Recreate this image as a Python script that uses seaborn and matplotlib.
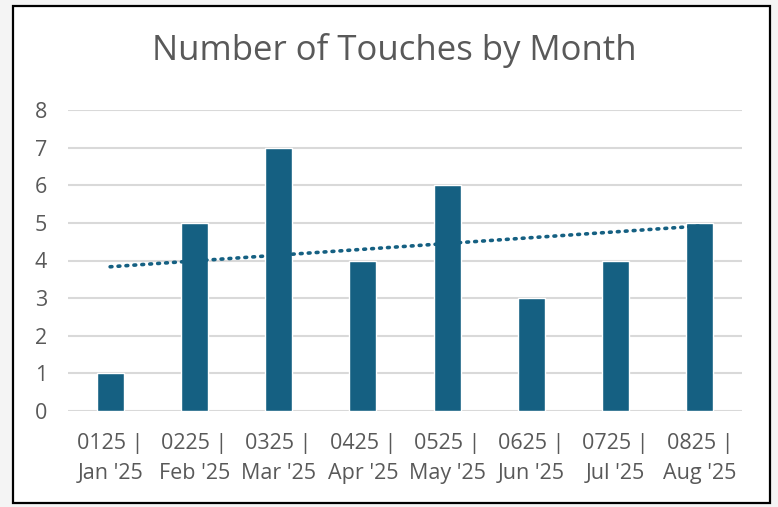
import numpy as np
import pandas as pd
import matplotlib
matplotlib.use('Agg')
import matplotlib.pyplot as plt
import seaborn as sns
from matplotlib.patches import Rectangle

# data
codes = ['0125', '0225', '0325', '0425', '0525', '0625', '0725', '0825']
months = ["Jan '25", "Feb '25", "Mar '25", "Apr '25", "May '25", "Jun '25", "Jul '25", "Aug '25"]
touches = [1, 5, 7, 4, 6, 3, 4, 5]
y_ticks = [0, 1, 2, 3, 4, 5, 6, 7, 8]

labels = [f'{c} |\n{m}' for c, m in zip(codes, months)]
df = pd.DataFrame({'Month': labels, 'Touches': touches})

BLUE = '#156082'
GREY_TXT = '#595959'

sns.set_theme(style='white')
plt.rcParams['font.family'] = ['Open Sans', 'DejaVu Sans']

fig = plt.figure(figsize=(7.78, 5.07), dpi=100, facecolor='#f4f4f4')
# white chart area with thin black border (behind the axes)
fig.patches.append(Rectangle((13/778, 1 - 503/507), 757/778, 497/507,
                             transform=fig.transFigure, facecolor='white',
                             edgecolor='black', linewidth=1.6, zorder=-1))

ax = fig.add_axes([68/778, 1 - 411/507, 674/778, 301/507])
ax.set_facecolor('none')

sns.barplot(data=df, x='Month', y='Touches', color=BLUE, width=0.32,
            saturation=1, ax=ax, zorder=3)

# linear trendline like Excel
xs = np.arange(len(touches))
slope, icpt = np.polyfit(xs, touches, 1)
ax.plot(xs, slope * xs + icpt, color=BLUE, linewidth=2.6,
        linestyle=(0, (0.5, 1.7)), dash_capstyle='round', zorder=4)

ax.set_ylim(0, 8)
ax.set_xlim(-0.5, len(touches) - 0.5)
ax.set_yticks(y_ticks)
ax.yaxis.grid(True, color='#d9d9d9', linewidth=1.5, zorder=0)
ax.set_axisbelow(True)
for s in ax.spines.values():
    s.set_visible(False)
ax.tick_params(axis='both', length=0, labelsize=15.5, labelcolor=GREY_TXT)
ax.tick_params(axis='y', pad=15)
ax.tick_params(axis='x', pad=16)
for t in ax.get_xticklabels():
    t.set_linespacing(1.55)
ax.set_xlabel('')
ax.set_ylabel('')

fig.text(394/778, 1 - 50/507, 'Number of Touches by Month', ha='center',
         va='center', fontsize=25, color=GREY_TXT)

fig.savefig('out.png', dpi=100, facecolor=fig.get_facecolor())
